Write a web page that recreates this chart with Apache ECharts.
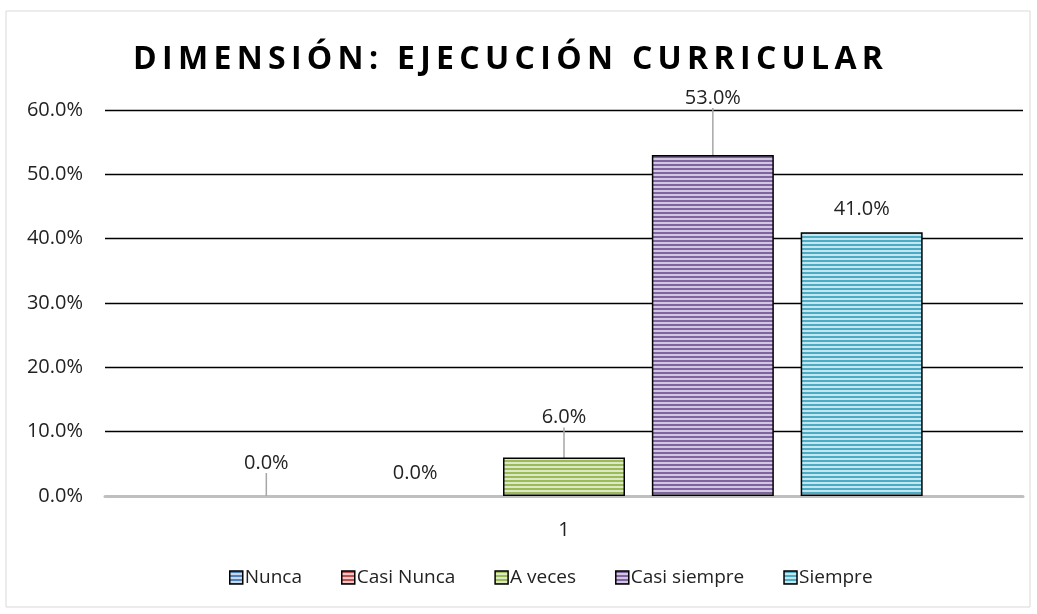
<!DOCTYPE html>
<html>
<head>
<meta charset="utf-8">
<script src="https://cdn.jsdelivr.net/npm/echarts@6/dist/echarts.min.js"></script>
<style>
  html, body { margin: 0; padding: 0; background: #fff; }
  #chart { width: 1037px; height: 614px; }
</style>
</head>
<body>
<div id="chart"></div>
<script>
const categories = ['1']
const seriesNames = ['Nunca', 'Casi Nunca', 'A veces', 'Casi siempre', 'Siempre']
const seriesValues = [0, 0, 6, 53, 41]
const yTicks = [0, 10, 20, 30, 40, 50, 60]
const colors = ['#4F81BD', '#C0504D', '#9BBB59', '#8064A2', '#4BACC6']
const lightColors = ['#C9D7EA', '#ECC9C8', '#DDE8C6', '#D2C7E0', '#C6E6EF']
// label lift (dy) and whether a leader line shows
const labelShift = [-18, -8, -25, -42, -8]
const showLeader = [true, false, true, true, false]

// 横条纹填充
function stripe(dark, light) {
  let c = document.createElement('canvas')
  c.width = 4
  c.height = 4
  let ctx = c.getContext('2d')
  ctx.fillStyle = light
  ctx.fillRect(0, 0, 4, 4)
  ctx.fillStyle = dark
  ctx.fillRect(0, 0, 4, 2)
  return c
}

// spaced title text
function spaced(s) {
  return s.split('').join('\u2009')
}

let myChart = echarts.init(document.getElementById('chart'))

let series = seriesNames.map(function (name, i) {
  let fill = { image: stripe(colors[i], lightColors[i]), repeat: 'repeat' }
  return {
    name: name,
    type: 'bar',
    data: [{
      value: seriesValues[i],
      itemStyle: { borderWidth: seriesValues[i] === 0 ? 0 : 1.5 }
    }],
    barWidth: 122,
    barGap: '22%',
    itemStyle: {
      color: fill,
      borderColor: '#000',
      borderWidth: 1.5
    },
    label: {
      show: true,
      position: 'top',
      distance: 5,
      color: '#222',
      fontSize: 20,
      fontFamily: 'Open Sans',
      formatter: function (p) { return p.value.toFixed(1) + '%' }
    },
    labelLayout: { dy: labelShift[i] },
    labelLine: {
      show: showLeader[i],
      lineStyle: { color: '#A6A6A6', width: 1.5 }
    }
  }
})

let option = {
  animation: false,
  title: {
    text: spaced('DIMENSIÓN: EJECUCIÓN CURRICULAR'),
    left: 128,
    top: 39,
    textStyle: {
      fontFamily: 'Open Sans',
      fontWeight: 'bold',
      fontSize: 32,
      color: '#000'
    }
  },
  graphic: [{
    type: 'rect',
    shape: { x: 6, y: 11, width: 1024, height: 596 },
    style: { fill: null, stroke: '#D9D9D9', lineWidth: 1 },
    silent: true
  }],
  grid: {
    left: 105,
    right: 14,
    top: 110,
    bottom: 118
  },
  legend: {
    bottom: 22,
    left: 224,
    icon: 'rect',
    itemWidth: 13,
    itemHeight: 13,
    itemGap: 39,
    data: seriesNames,
    itemStyle: { borderColor: '#000', borderWidth: 1.5 },
    textStyle: {
      fontFamily: 'Open Sans',
      fontSize: 19,
      color: '#222',
      padding: [0, 0, 0, -3]
    }
  },
  xAxis: {
    type: 'category',
    data: categories,
    axisLine: { lineStyle: { color: '#BFBFBF', width: 3 } },
    axisTick: { show: false },
    axisLabel: {
      color: '#222',
      fontSize: 20,
      fontFamily: 'Open Sans',
      margin: 24
    }
  },
  yAxis: {
    type: 'value',
    min: yTicks[0],
    max: yTicks[yTicks.length - 1],
    interval: 10,
    axisLine: { show: false },
    axisTick: { show: false },
    splitLine: { lineStyle: { color: '#000', width: 1.3 } },
    axisLabel: {
      color: '#222',
      fontSize: 20,
      fontFamily: 'Open Sans',
      margin: 22,
      formatter: function (v) { return v.toFixed(1) + '%' }
    }
  },
  series: series
}

myChart.setOption(option)
</script>
</body>
</html>
